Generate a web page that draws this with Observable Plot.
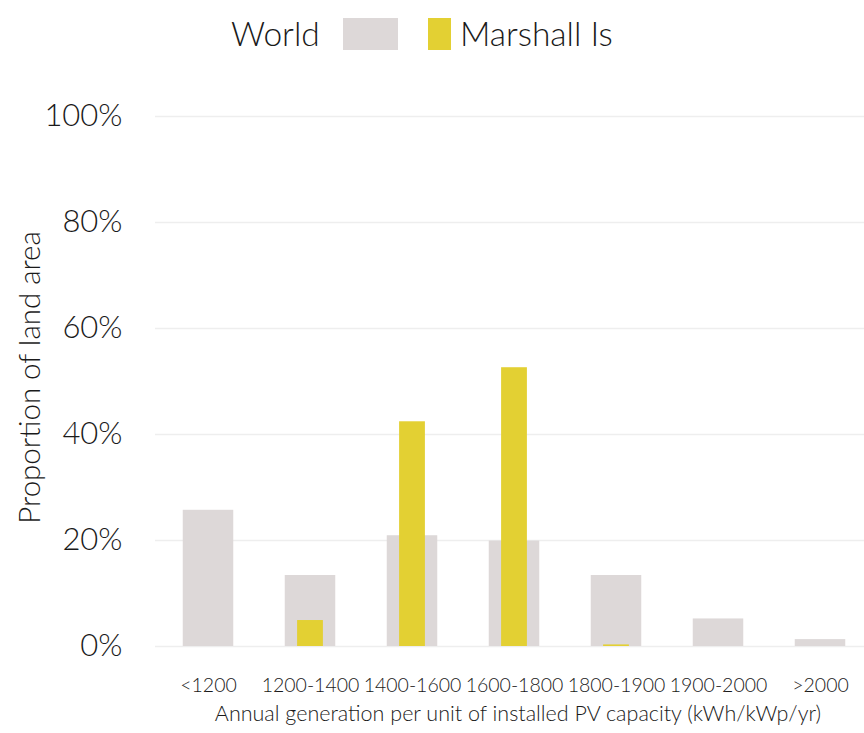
<!DOCTYPE html>
<html>
<head>
<meta charset="utf-8">
<script src="https://cdn.jsdelivr.net/npm/d3@7"></script>
<script src="https://cdn.jsdelivr.net/npm/@observablehq/plot@0.6"></script>
<style>
  html, body { margin: 0; padding: 0; background: #fff; }
  body { width: 864px; height: 733px; overflow: hidden; font-family: Lato, "Open Sans", sans-serif; font-weight: 300; color: #1a1a1a; }
  #legend { position: relative; height: 68px; }
  #legend span { position: absolute; font-size: 33.5px; line-height: 1; top: 17px; }
  #legend i { position: absolute; top: 18px; height: 32px; display: block; }
  #chart svg { display: block; }
  #chart text { font-family: Lato, "Open Sans", sans-serif; font-weight: 300; }
</style>
</head>
<body>
<div id="legend"></div>
<div id="chart"></div>
<script>
const categories = ["<1200", "1200-1400", "1400-1600", "1600-1800", "1800-1900", "1900-2000", ">2000"];
const worldValues = [25.7, 13.4, 20.9, 19.9, 13.4, 5.2, 1.3];
const marshallValues = [0, 4.9, 42.4, 52.6, 0.3, 0, 0];
const seriesNames = ["World", "Marshall Is"];
const seriesColors = ["#ddd8d8", "#e3d033"];
const yTicks = [0, 20, 40, 60, 80, 100];
const xTitle = "Annual generation per unit of installed PV capacity (kWh/kWp/yr)";
const yTitle = "Proportion of land area";

const world = categories.map((c, i) => ({category: c, value: worldValues[i]}));
const marshall = categories.map((c, i) => ({category: c, value: marshallValues[i]}));

// Legend (HTML, above the SVG)
const legend = document.getElementById("legend");
legend.innerHTML = `
  <span style="left:231px">${seriesNames[0]}</span>
  <i style="left:343px;width:55px;background:${seriesColors[0]}"></i>
  <i style="left:428px;width:23px;background:${seriesColors[1]}"></i>
  <span style="left:460px">${seriesNames[1]}</span>`;

const chart = Plot.plot({
  width: 864,
  height: 665,
  marginTop: 48,
  marginBottom: 87,
  marginLeft: 155,
  marginRight: 0,
  style: {fontFamily: "Lato, 'Open Sans', sans-serif", color: "#1a1a1a", background: "#fff"},
  x: {domain: categories, range: [155.25, 872.75], padding: 0},
  y: {domain: [0, 100]},
  marks: [
    Plot.ruleY(yTicks, {stroke: "#eeeeee", strokeWidth: 1.5}),
    Plot.barY(world, {x: "category", y: "value", fill: seriesColors[0], insetLeft: 25.75, insetRight: 25.75}),
    Plot.barY(marshall, {x: "category", y: "value", fill: seriesColors[1], insetLeft: 38.1, insetRight: 38.1}),
    Plot.axisY({ticks: yTicks, tickFormat: d => d + "%", tickSize: 0, tickPadding: 33, fontSize: 31, label: null}),
    Plot.text([yTitle], {frameAnchor: "left", textAnchor: "middle", dx: -125, dy: -4, rotate: -90, fontSize: 29.5, fill: "#1a1a1a"}),
    Plot.axisX({tickSize: 0, tickPadding: 32, fontSize: 19.5, label: null}),
    Plot.text([xTitle], {frameAnchor: "bottom", dx: 8, dy: 74, fontSize: 21.5, fill: "#1a1a1a"})
  ]
});
document.getElementById("chart").appendChild(chart);
</script>
</body>
</html>
